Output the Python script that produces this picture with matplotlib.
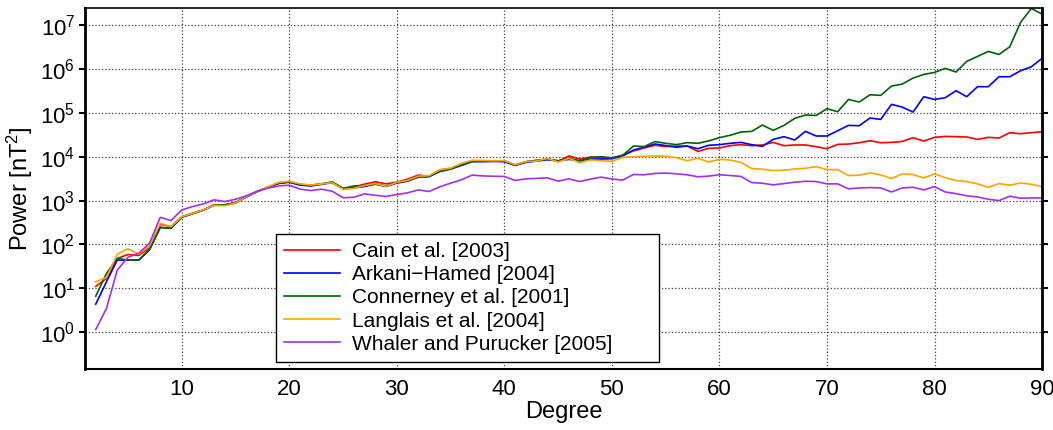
import numpy as np
import matplotlib
matplotlib.use('Agg')
import matplotlib.pyplot as plt
from matplotlib.ticker import NullLocator

plt.rcParams['font.family'] = ['Liberation Sans', 'DejaVu Sans']
plt.rcParams['mathtext.fontset'] = 'custom'
plt.rcParams['mathtext.rm'] = 'Liberation Sans'
plt.rcParams['mathtext.it'] = 'Liberation Sans:italic'

degree = list(range(2, 91))

cain = [11.0, 16.8, 48, 59, 56, 84, 288, 255, 430, 513, 612, 796, 800, 900, 1230, 1600, 2010, 2480, 2670,
        2320, 2200, 2400, 2620, 1880, 2010, 2370, 2670, 2410, 2630, 3080, 3800, 3600, 5000, 5400, 6900, 8100,
        7950, 7960, 7960, 6340, 7680, 7960, 9000, 7820, 10400, 8850, 9800, 9600, 9300, 10900, 13500, 15800,
        18200, 17000, 17500, 17500, 13200, 15500, 15800, 17900, 18800, 17800, 18500, 21200, 17800, 18500,
        18500, 16900, 15200, 19100, 19400, 20800, 23100, 20800, 21200, 22300, 27100, 22700, 27600, 29000,
        28600, 28100, 24800, 27600, 26600, 35200, 33400, 35200, 37100]

arkani = [4.35, 14.1, 44, 44, 44, 75, 246, 233, 416, 500, 600, 780, 790, 880, 1200, 1600, 2000, 2450, 2620,
          2250, 2150, 2350, 2550, 1850, 1950, 2090, 2370, 2090, 2500, 2770, 3420, 3500, 4600, 5200, 6300, 7700,
          7700, 7800, 7680, 6340, 7400, 7960, 8500, 8100, 8700, 8100, 8850, 8850, 9000, 10300, 14200, 16400,
          19500, 17900, 16400, 17500, 15200, 18200, 18800, 20200, 21200, 18800, 17200, 24800, 28600, 24000,
          37800, 29600, 29600, 39100, 51700, 50800, 76000, 70800, 156000, 135000, 104000, 233000, 202000,
          221000, 319000, 233000, 394000, 394000, 664000, 664000, 910000, 1120000, 1740000]

connerney = [6.6, 21.9, 48, 44, 44, 77, 242, 233, 420, 505, 610, 790, 800, 890, 1230, 1600, 2030, 2500, 2700,
             2350, 2250, 2400, 2650, 1900, 2150, 2210, 2400, 2150, 2600, 2850, 3500, 3550, 4700, 5300, 6500,
             7800, 7900, 7960, 8100, 6500, 7680, 8300, 8800, 7960, 9300, 7960, 9600, 10000, 9400, 10700, 17500,
             17000, 22100, 20200, 18800, 20900, 20200, 22900, 27200, 30800, 36500, 37800, 52600, 39800, 51700,
             74700, 89000, 87000, 124000, 106000, 202000, 176000, 258000, 250000, 407000, 452000, 619000,
             750000, 834000, 1030000, 850000, 1490000, 1930000, 2510000, 2140000, 3200000, 11500000,
             23900000, 17800000]

langlais = [14.1, 17.7, 60, 80, 60, 92, 303, 255, 430, 510, 610, 780, 760, 880, 1220, 1620, 2050, 2600, 2750,
            2400, 2250, 2400, 2550, 1800, 1900, 2200, 2450, 2100, 2600, 2900, 3600, 3700, 5040, 5500, 7000,
            8300, 8200, 8100, 8100, 6600, 7680, 7960, 9160, 7550, 9160, 7300, 8400, 8100, 7800, 9650, 10000,
            10200, 10400, 10200, 9500, 8100, 9200, 7550, 8700, 8400, 7400, 5360, 5170, 4820, 4910, 5260, 5450,
            5950, 5080, 5080, 3710, 3780, 4270, 3850, 3170, 4050, 3910, 3280, 4050, 3340, 2860, 2710, 2400,
            2010, 2440, 2230, 2520, 2350, 2080]

whaler = [1.15, 3.47, 26, 51, 63, 106, 416, 349, 612, 730, 840, 1040, 950, 1070, 1280, 1630, 1910, 2160, 2240,
          1820, 1690, 1820, 1630, 1160, 1190, 1420, 1320, 1240, 1370, 1500, 1750, 1610, 2060, 2490, 2970, 3800,
          3650, 3580, 3550, 2870, 3130, 3200, 3300, 2770, 3130, 2720, 3080, 3420, 3100, 2930, 3930, 3870, 4150,
          4230, 4070, 3870, 3480, 3610, 3870, 3730, 3550, 2570, 2480, 2280, 2440, 2620, 2760, 2710, 2400, 2400,
          1850, 1940, 1980, 1940, 1570, 1940, 2010, 1750, 2080, 1570, 1440, 1280, 1210, 1070, 1000, 1260, 1130,
          1150, 1150]

fig = plt.figure(figsize=(10.53, 4.30), dpi=100)
ax = fig.add_axes([0.0807, 0.1419, 0.9089, 0.8395])

lw = 1.2
ax.plot(degree, cain, color='red', lw=lw, label='Cain et al. [2003]')
ax.plot(degree, arkani, color='blue', lw=lw, label='Arkani\u2212Hamed [2004]')
ax.plot(degree, connerney, color='darkgreen', lw=lw, label='Connerney et al. [2001]')
ax.plot(degree, langlais, color='orange', lw=lw, label='Langlais et al. [2004]')
ax.plot(degree, whaler, color='#a030f0', lw=lw, label='Whaler and Purucker [2005]')

ax.set_yscale('log')
ax.set_xlim(1, 90)
ax.set_ylim(0.145, 2.45e7)
ax.set_yticks([10.0**k for k in range(0, 8)])
ax.yaxis.set_minor_locator(NullLocator())
ax.set_xticks([10, 20, 30, 40, 50, 60, 70, 80, 90])

ax.grid(True, which='major', color='black', linestyle=':', linewidth=0.9, alpha=0.75)
ax.tick_params(axis='y', which='major', direction='out', length=4, width=1.5,
               right=True, labelsize=16, pad=3)
ax.tick_params(axis='x', which='major', length=0, labelsize=16, pad=7)

ax.spines['left'].set_linewidth(2)
ax.spines['right'].set_linewidth(2)
ax.spines['top'].set_linewidth(1.2)
ax.spines['bottom'].set_linewidth(1.5)

ax.set_xlabel('Degree', fontsize=17, labelpad=1)
ax.set_ylabel('Power [nT$^2$]', fontsize=17, labelpad=4)

# legend box stretched to the width used in the original figure
leg = ax.legend(loc='lower left', bbox_to_anchor=(0.1996, 0.019, 0.400, 0.4), mode='expand',
                borderaxespad=0, fontsize=15, fancybox=False, framealpha=1, edgecolor='black',
                handlelength=2.65, handletextpad=0.58, labelspacing=0.2, borderpad=0.4)
leg.get_frame().set_linewidth(1.0)

plt.savefig('out.png', dpi=100)
